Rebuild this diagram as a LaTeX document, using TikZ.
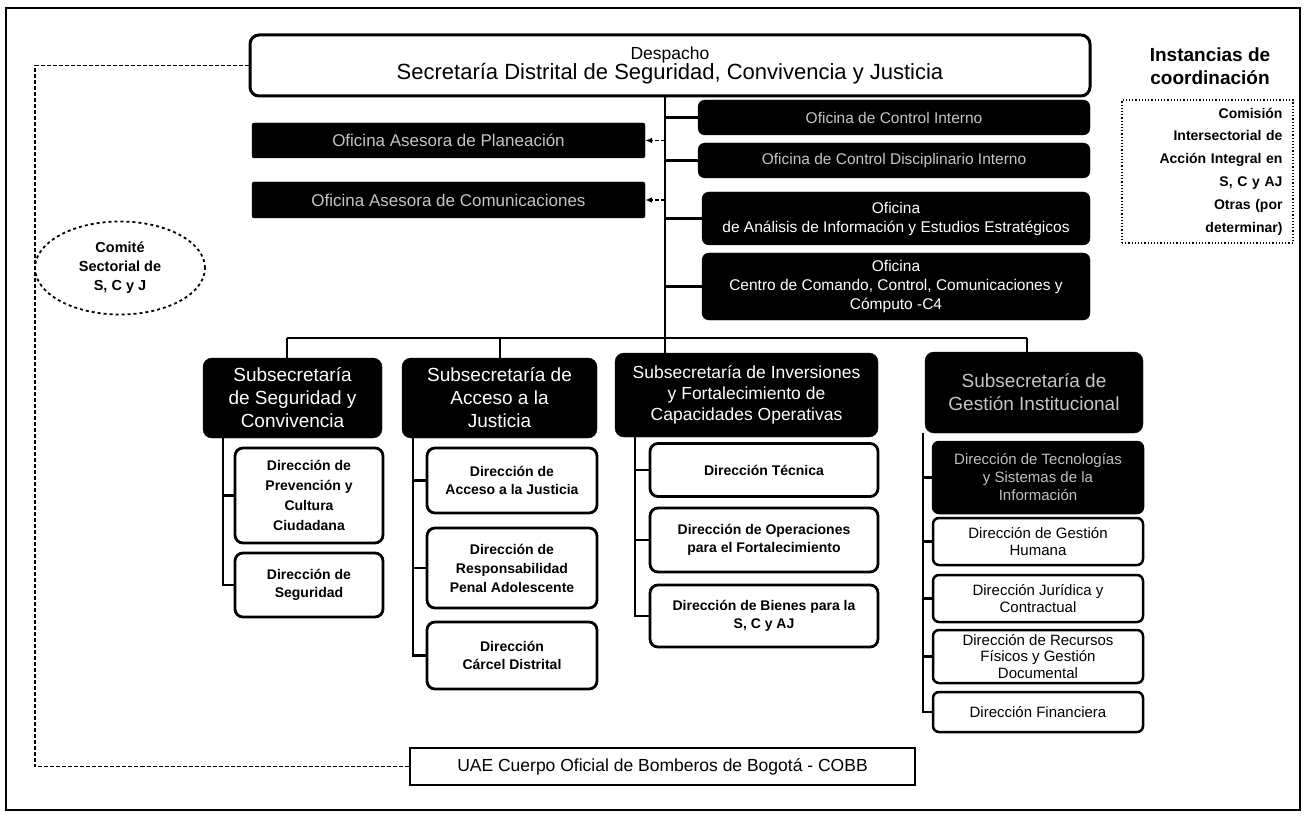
\documentclass[tikz,border=0pt]{standalone}
\usepackage{fontspec}
\setmainfont{Liberation Sans}
\usetikzlibrary{arrows.meta,shapes.geometric}
\begin{document}
\begin{tikzpicture}[x=1pt,y=-1pt,
  every node/.style={inner sep=2pt,align=center},
  darkbox/.style={draw=black,fill=black,text=white,rounded corners=7pt,font=\fontsize{15.5}{19}\selectfont},
  noisybox/.style={darkbox,text=black!65!white!35},
  subbox/.style={draw=black,fill=black,text=white,rounded corners=9pt,font=\fontsize{19}{23}\selectfont},
  dirbox/.style={draw=black,fill=white,line width=2.8pt,rounded corners=8pt,font=\bfseries\fontsize{14}{18}\selectfont},
  dirboxb/.style={draw=black,fill=white,line width=2.5pt,rounded corners=6pt,font=\fontsize{15}{16.5}\selectfont},
  conn/.style={line width=2.6pt},
  dconn/.style={line width=1.8pt,dashed,dash pattern=on 4pt off 2pt}
]
\useasboundingbox (0,0) rectangle (1306,818);
\draw[line width=1.8pt] (6,8) rectangle (1300,810);

% Despacho
\node[draw=black,line width=3pt,rounded corners=9pt,minimum width=840pt,minimum height=61pt] (desp) at (670,65.5)
  {{\fontsize{17.5}{19}\selectfont Despacho}\\[-1pt]{\fontsize{22}{24}\selectfont Secretaría Distrital de Seguridad, Convivencia y Justicia}};

% Instancias
\node[font=\bfseries\fontsize{19}{23}\selectfont] (inst) at (1210,66) {Instancias de\\coordinación};
\node[draw=black,dotted,line width=1.2pt,minimum width=171pt,minimum height=143pt,
  text width=150pt,align=right,font=\bfseries\fontsize{14}{22.8}\selectfont] (comi) at (1207.5,171.5)
  {Comisión\\Intersectorial de\\Acción Integral en\\S, C y AJ\\Otras (por\\determinar)};

% Right offices
\node[noisybox,minimum width=392pt,minimum height=35pt] (r1) at (894,117.5) {Oficina de Control Interno};
\node[noisybox,minimum width=392pt,minimum height=35pt] (r2) at (894,160.5) {Oficina de Control Disciplinario Interno};
\node[darkbox,minimum width=388pt,minimum height=53pt] (r3) at (896,218.5) {Oficina\\de Análisis de Información y Estudios Estratégicos};
\node[darkbox,minimum width=388pt,minimum height=67pt] (r4) at (896,286.5) {Oficina\\Centro de Comando, Control, Comunicaciones y\\Cómputo -C4};

% Left offices
\node[noisybox,rounded corners=2pt,minimum width=393pt,minimum height=35pt,font=\fontsize{17}{19}\selectfont] (l1) at (448.5,140.5) {Oficina Asesora de Planeación};
\node[noisybox,rounded corners=2pt,minimum width=393pt,minimum height=36pt,font=\fontsize{17}{19}\selectfont] (l2) at (448.5,200) {Oficina Asesora de Comunicaciones};

% trunk
\coordinate (t0) at (665,96);
\coordinate (bus) at (665,338);
\draw[conn] (desp.south -| t0) -- (bus);
\foreach \n in {r1,r2,r3,r4} \draw[conn] (\n.west -| t0) -- (\n.west);
\foreach \n in {l1,l2} \draw[dconn,-{Latex[length=7pt,width=6pt]}] (\n.east -| t0) -- (\n.east);

% Subsecretarias
\node[subbox,minimum width=179pt,minimum height=80pt] (s1) at (292.5,398) {Subsecretaría\\de Seguridad y\\Convivencia};
\node[subbox,minimum width=195pt,minimum height=80pt] (s2) at (499.5,398) {Subsecretaría de\\Acceso a la\\Justicia};
\node[subbox,minimum width=263pt,minimum height=84pt,font=\fontsize{17.5}{21}\selectfont] (s3) at (746.5,395) {Subsecretaría de Inversiones\\y Fortalecimiento de\\Capacidades Operativas};
\node[subbox,text=black!65!white!35,minimum width=218pt,minimum height=81pt] (s4) at (1034,392.5) {Subsecretaría de\\Gestión Institucional};

\coordinate (b1) at (287,338);
\coordinate (b2) at (500,338);
\coordinate (b4) at (1027,338);
\draw[conn] (b1) -- (b4);
\draw[conn] (b1) -- (b1 |- s1.north);
\draw[conn] (b2) -- (b2 |- s2.north);
\draw[conn] (bus) -- (bus |- s3.north);
\draw[conn] (b4) -- (b4 |- s4.north);

% Column 1
\node[dirbox,minimum width=148pt,minimum height=95pt,font=\bfseries\fontsize{14}{20}\selectfont] (d11) at (309,495.5) {Dirección de\\Prevención y\\Cultura\\Ciudadana};
\node[dirbox,minimum width=148pt,minimum height=64pt] (d12) at (309,585) {Dirección de\\Seguridad};
\coordinate (c1) at (223,438);
\draw[conn] (c1 |- s1.south) |- (d12.west);
\draw[conn] (d11.west -| c1) -- (d11.west);

% Column 2
\node[dirbox,minimum width=170pt,minimum height=65pt] (d21) at (512,480.5) {Dirección de\\Acceso a la Justicia};
\node[dirbox,minimum width=170pt,minimum height=80pt,font=\bfseries\fontsize{14}{19}\selectfont] (d22) at (512,568) {Dirección de\\Responsabilidad\\Penal Adolescente};
\node[dirbox,minimum width=170pt,minimum height=67pt] (d23) at (512,655.5) {Dirección\\Cárcel Distrital};
\coordinate (c2) at (413,438);
\draw[conn] (c2 |- s2.south) |- (d23.west);
\foreach \n in {d21,d22} \draw[conn] (\n.west -| c2) -- (\n.west);

% Column 3
\node[dirbox,minimum width=228pt,minimum height=53pt] (d31) at (764,470) {Dirección Técnica};
\node[dirbox,minimum width=228pt,minimum height=64pt] (d32) at (764,540) {Dirección de Operaciones\\para el Fortalecimiento};
\node[dirbox,minimum width=228pt,minimum height=62pt] (d33) at (764,616) {Dirección de Bienes para la\\S, C y AJ};
\coordinate (c3) at (635,437);
\draw[conn] (c3 |- s3.south) |- (d33.west);
\foreach \n in {d31,d32} \draw[conn] (\n.west -| c3) -- (\n.west);

% Column 4
\node[dirboxb,fill=black,text=black!55!white!45,minimum width=210pt,minimum height=71pt,font=\fontsize{15}{18}\selectfont] (d41) at (1038,477.5) {Dirección de Tecnologías\\y Sistemas de la\\Información};
\node[dirboxb,minimum width=210pt,minimum height=47pt] (d42) at (1038,541.5) {Dirección de Gestión\\Humana};
\node[dirboxb,minimum width=210pt,minimum height=47pt] (d43) at (1038,598.5) {Dirección Jurídica y\\Contractual};
\node[dirboxb,minimum width=210pt,minimum height=53pt] (d44) at (1038,656.5) {Dirección de Recursos\\Físicos y Gestión\\Documental};
\node[dirboxb,minimum width=210pt,minimum height=40pt] (d45) at (1038,712) {Dirección Financiera};
\coordinate (c4) at (923,433);
\draw[conn] (c4 |- s4.south) |- (d45.west);
\foreach \n in {d41,d42,d43,d44} \draw[conn] (\n.west -| c4) -- (\n.west);

% Comite and COBB
\node[draw=black,dashed,line width=1.8pt,ellipse,minimum width=170pt,minimum height=93pt,inner sep=0pt,
  font=\bfseries\fontsize{14.5}{19}\selectfont] (comite) at (120,268) {Comité\\Sectorial de\\S, C y J};
\node[draw=black,line width=1.5pt,minimum width=505pt,minimum height=37pt,font=\fontsize{17.5}{19}\selectfont] (cobb) at (662.5,766.5)
  {UAE Cuerpo Oficial de Bomberos de Bogotá - COBB};
\coordinate (k1) at (35,65.5);
\coordinate (k2) at (35,766.5);
\draw[dconn] (desp.west) -- (k1) -- (k2) -- (cobb.west);
\end{tikzpicture}
\end{document}
